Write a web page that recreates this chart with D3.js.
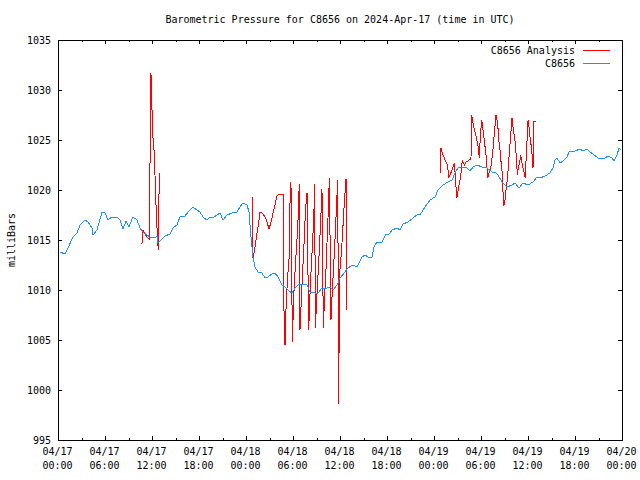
<!DOCTYPE html>
<html>
<head>
<meta charset="utf-8">
<script src="https://cdn.jsdelivr.net/npm/d3@7"></script>
<style>
  html, body { margin: 0; padding: 0; background: #fff; }
  svg { display: block; }
  text { font-family: "DejaVu Sans Mono", "Liberation Mono", monospace; font-size: 10px; fill: #000; }
</style>
</head>
<body>
<script>
// ---- data (hours since 2024-04-17 00:00 UTC) ----
const stationHours = [0.26,0.89,1.28,1.91,2.43,2.81,3.45,3.83,4.34,4.47,4.98,5.62,6.00,6.38,6.89,7.53,7.91,8.30,8.68,9.06,9.57,10.09,10.47,10.85,11.36,11.74,12.38,12.64,12.77,13.28,13.66,14.30,14.68,15.19,15.57,16.21,16.60,17.23,17.74,18.13,18.51,19.02,19.40,19.79,20.30,20.68,21.06,21.57,22.21,22.85,23.23,23.62,24.13,24.38,24.64,24.89,25.15,25.53,26.04,26.43,26.81,27.32,27.70,28.09,28.60,28.98,29.36,29.87,30.26,30.64,31.15,31.79,32.17,32.81,33.19,33.70,34.34,34.72,35.11,35.62,36.00,36.64,37.02,37.66,38.17,38.81,39.19,39.57,40.09,40.34,40.72,41.36,41.87,42.26,42.64,43.28,43.66,44.04,44.68,45.32,45.96,46.21,46.85,47.49,48.13,48.51,49.15,49.79,50.30,50.68,51.06,51.70,52.21,52.60,52.98,53.49,54.13,54.77,55.40,55.79,56.17,56.68,57.06,57.32,57.96,58.34,58.85,59.36,60.00,60.64,61.15,61.53,62.17,62.81,63.19,63.45,63.70,64.09,64.47,64.98,65.23,66.00,66.64,67.02,67.53,67.91,68.30,68.94,69.83,70.21,70.72,70.98,71.36,71.62,71.87];
const stationValues = [1013.8,1013.6,1014.2,1015.3,1015.7,1016.5,1017.0,1016.8,1016.2,1015.5,1016.0,1017.8,1017.7,1017.0,1017.3,1017.3,1017.0,1016.1,1016.9,1016.3,1017.3,1017.0,1016.2,1015.8,1015.5,1015.3,1015.2,1015.4,1014.7,1015.1,1015.4,1015.6,1016.2,1016.5,1017.3,1017.4,1017.8,1018.3,1018.0,1017.8,1017.3,1017.0,1017.3,1017.2,1017.5,1017.7,1017.0,1017.5,1017.7,1017.8,1018.3,1018.7,1018.5,1017.8,1015.3,1013.3,1012.3,1011.8,1011.7,1011.2,1011.3,1011.6,1011.7,1011.3,1010.5,1010.3,1010.0,1009.7,1010.2,1010.5,1010.6,1010.5,1009.8,1009.7,1009.7,1010.2,1010.2,1010.3,1010.0,1010.5,1011.2,1011.8,1012.2,1012.5,1012.3,1013.3,1013.5,1013.3,1013.3,1014.3,1014.8,1014.8,1015.6,1015.6,1016.0,1016.2,1016.0,1016.6,1016.8,1017.2,1017.6,1017.5,1018.3,1019.0,1019.3,1020.0,1020.5,1020.8,1021.0,1021.7,1022.2,1022.3,1022.2,1021.9,1022.3,1022.5,1022.3,1022.2,1021.8,1021.8,1021.5,1020.8,1020.5,1020.3,1020.5,1020.7,1020.2,1020.7,1020.5,1020.8,1021.3,1021.2,1021.4,1021.7,1022.2,1023.0,1023.2,1022.7,1022.9,1023.3,1023.8,1023.9,1024.1,1023.9,1024.1,1023.8,1023.6,1023.2,1023.2,1023.4,1023.2,1022.9,1023.5,1024.2,1024.0];

// Analysis series: null value marks a gap between segments
const analysisHours = [10.72,10.85,11.02,11.45,11.66,11.74,11.87,12.00,12.12,12.33,12.42,12.55,12.68,12.80,12.93,
  18.0,
  24.80,24.87,25.06,25.37,25.57,25.79,26.08,26.43,26.64,26.94,27.19,27.49,27.70,27.92,28.34,28.76,28.85,28.98,29.11,29.27,29.53,29.62,29.74,29.83,29.91,30.04,30.17,30.29,30.47,30.64,30.80,30.89,31.06,31.24,31.40,31.57,31.70,31.79,32.00,32.17,32.34,32.52,32.68,32.77,32.85,33.02,33.19,33.36,33.54,33.70,33.87,34.04,34.21,34.38,34.51,34.64,34.85,35.02,35.20,35.36,35.53,35.71,35.84,35.93,36.10,36.28,36.46,36.62,36.77,36.86,
  42.0,
  48.77,48.89,49.11,49.31,49.53,49.75,49.87,50.04,50.26,50.47,50.60,50.72,50.90,51.03,51.16,51.32,51.45,51.58,51.66,51.87,52.09,52.30,52.51,52.72,52.81,52.94,53.06,53.23,53.36,53.49,53.66,53.79,53.92,54.10,54.26,54.43,54.64,54.86,55.07,55.28,55.49,55.70,55.92,56.13,56.26,56.43,56.56,56.68,56.77,56.90,57.06,57.19,57.32,57.49,57.62,57.83,57.96,58.13,58.34,58.51,58.64,58.77,58.94,59.06,59.24,59.45,59.66,59.79,59.92,60.01,60.13,60.30,60.43,60.55,60.64,60.72,61.06];
const analysisValues = [1014.6,1016.0,1015.7,1015.2,1015.1,1022.2,1031.7,1028.0,1025.3,1023.3,1020.3,1017.8,1015.5,1014.0,1021.7,
  null,
  1019.3,1013.2,1013.8,1015.5,1016.5,1017.8,1017.7,1017.3,1016.9,1016.1,1016.8,1017.8,1018.5,1019.4,1019.6,1019.6,1008.0,1004.5,1008.2,1010.8,1013.5,1018.8,1020.8,1013.2,1004.8,1008.0,1010.7,1012.3,1014.5,1017.0,1020.6,1006.0,1009.0,1012.0,1014.5,1017.5,1019.0,1019.7,1006.0,1009.5,1012.5,1015.0,1018.0,1020.6,1006.2,1009.0,1011.5,1014.0,1017.0,1020.1,1006.2,1009.5,1012.0,1015.5,1018.0,1021.2,1007.0,1010.0,1012.5,1015.0,1018.0,1021.0,998.6,1011.5,1013.0,1015.0,1017.5,1019.5,1021.1,1008.0,
  null,
  1021.7,1024.2,1023.6,1023.2,1022.8,1022.4,1021.2,1021.5,1021.9,1022.4,1022.7,1021.4,1019.2,1019.7,1020.4,1021.0,1021.7,1022.7,1022.9,1022.5,1022.8,1022.9,1023.0,1023.1,1027.5,1026.9,1026.3,1025.8,1025.4,1024.9,1024.2,1023.2,1025.5,1027.0,1026.0,1024.9,1023.5,1021.2,1021.8,1022.4,1023.7,1025.7,1027.5,1026.7,1025.0,1024.0,1022.8,1021.9,1020.5,1018.4,1019.0,1020.0,1020.8,1022.2,1023.8,1025.9,1027.2,1026.0,1024.9,1023.3,1021.5,1022.2,1022.8,1023.5,1022.7,1021.9,1021.2,1023.7,1025.5,1027.0,1026.3,1025.0,1024.3,1023.3,1022.2,1026.9,1026.9];

const yTicks = [995,1000,1005,1010,1015,1020,1025,1030,1035];
const seriesNames = ["C8656 Analysis", "C8656"];
const seriesColors = ["#ff0000", "#1e90ff"];
const titleText = "Barometric Pressure for C8656 on 2024-Apr-17 (time in UTC)";
const yLabel = "milliBars";

// ---- layout ----
const W = 640, H = 480;
const L = 58, R = 622, T = 40, B = 440;
const t0 = Date.UTC(2024, 3, 17);
const toDate = h => new Date(t0 + h * 3600e3);

const svg = d3.select("body").append("svg").attr("width", W).attr("height", H);

const x = d3.scaleUtc().domain([toDate(0), toDate(72)]).range([L, R]);
const y = d3.scaleLinear().domain([995, 1035]).range([B, T]);

svg.append("text").attr("x", (L + R) / 2).attr("y", 23).attr("text-anchor", "middle").text(titleText);

svg.append("text")
  .attr("transform", `translate(15,${(T + B) / 2}) rotate(-90)`)
  .attr("text-anchor", "middle").text(yLabel);

const majorT = x.ticks(d3.utcHour.every(6));
const minorT = x.ticks(d3.utcHour.every(3)).filter(d => d.getUTCHours() % 6 !== 0);
const fmtD = d3.utcFormat("%m/%d"), fmtH = d3.utcFormat("%H:%M");

function styleAxis(g) {
  g.select(".domain").remove();
  g.selectAll("line").attr("stroke", "#000").attr("shape-rendering", "crispEdges");
  g.selectAll("text").style("font-family", "DejaVu Sans Mono, monospace").style("font-size", "10px").attr("fill", "#000");
}

// bottom major with labels
const gb = svg.append("g").attr("transform", `translate(0,${B})`)
  .call(d3.axisBottom(x).tickValues(majorT).tickSize(-4).tickSizeOuter(0).tickPadding(9).tickFormat(""));
styleAxis(gb);
gb.selectAll(".tick text").each(function(d) {
  const t = d3.select(this).attr("y", 15).attr("dy", null).attr("x", -1);
  t.append("tspan").attr("x", -1).attr("y", 15).text(fmtD(d));
  t.append("tspan").attr("x", -1).attr("y", 29).text(fmtH(d));
});
styleAxis(svg.append("g").attr("transform", `translate(0,${B})`)
  .call(d3.axisBottom(x).tickValues(minorT).tickSize(-2).tickSizeOuter(0).tickFormat("")));
// top mirror
styleAxis(svg.append("g").attr("transform", `translate(0,${T})`)
  .call(d3.axisTop(x).tickValues(majorT).tickSize(-4).tickSizeOuter(0).tickFormat("")));
styleAxis(svg.append("g").attr("transform", `translate(0,${T})`)
  .call(d3.axisTop(x).tickValues(minorT).tickSize(-2).tickSizeOuter(0).tickFormat("")));
// left
const gl = svg.append("g").attr("transform", `translate(${L},0)`)
  .call(d3.axisLeft(y).tickValues(yTicks).tickSize(-4).tickSizeOuter(0).tickPadding(7).tickFormat(d3.format("d")));
styleAxis(gl);
gl.selectAll(".tick text").attr("dy", "0.35em");
// right mirror
styleAxis(svg.append("g").attr("transform", `translate(${R},0)`)
  .call(d3.axisRight(y).tickValues(yTicks).tickSize(-4).tickSizeOuter(0).tickFormat("")));

// frame
svg.append("rect").attr("x", L + 0.5).attr("y", T + 0.5).attr("width", R - L).attr("height", B - T)
  .attr("fill", "none").attr("stroke", "#000").attr("shape-rendering", "crispEdges");

// series
const analysis = analysisHours.map((h, i) => ({ t: toDate(h), v: analysisValues[i] }));
const station = stationHours.map((h, i) => ({ t: toDate(h), v: stationValues[i] }));
const line = d3.line().defined(d => d.v != null).x(d => x(d.t)).y(d => y(d.v));

svg.append("path").datum(analysis).attr("d", line)
  .attr("fill", "none").attr("stroke", seriesColors[0]).attr("stroke-width", 1)
  .attr("shape-rendering", "crispEdges");
svg.append("path").datum(station).attr("d", line)
  .attr("fill", "none").attr("stroke", seriesColors[1]).attr("stroke-width", 1)
  .attr("shape-rendering", "crispEdges");

// legend
seriesNames.forEach((n, i) => {
  const yy = 50 + i * 13;
  svg.append("text").attr("x", 575).attr("y", yy).attr("dy", "0.35em").attr("text-anchor", "end").text(n);
  svg.append("line").attr("x1", 583).attr("x2", 610).attr("y1", yy + 0.5).attr("y2", yy + 0.5)
    .attr("stroke", seriesColors[i]).attr("shape-rendering", "crispEdges");
});
</script>
</body>
</html>
